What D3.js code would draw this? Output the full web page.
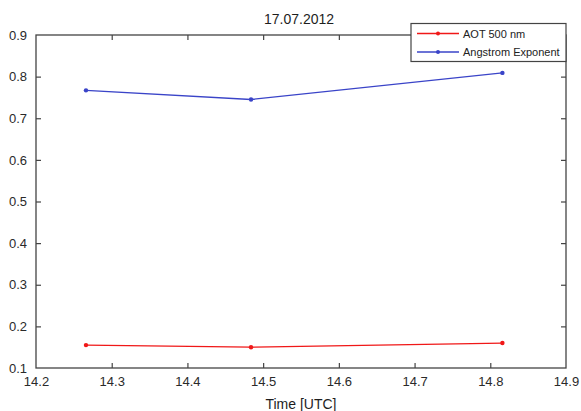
<!DOCTYPE html>
<html>
<head>
<meta charset="utf-8">
<script src="https://cdn.jsdelivr.net/npm/d3@7"></script>
<style>
  html, body { margin: 0; padding: 0; background: #fff; }
  svg { display: block; font-family: "Liberation Sans", Arial, sans-serif; }
</style>
</head>
<body>
<svg id="chart" width="581" height="411"></svg>
<script>
// Measurement times (hours UTC)
const times = [14.266, 14.484, 14.816];
// Aerosol optical thickness at 500 nm
const aot500 = [0.155, 0.150, 0.160];
// Angstrom exponent
const angstrom = [0.767, 0.745, 0.809];
const xTicks = [14.2, 14.3, 14.4, 14.5, 14.6, 14.7, 14.8, 14.9];
const yTicks = [0.1, 0.2, 0.3, 0.4, 0.5, 0.6, 0.7, 0.8, 0.9];
const seriesNames = ["AOT 500 nm", "Angstrom Exponent"];
const seriesColors = ["#f01818", "#3a44c8"];

const svg = d3.select("#chart");
const m = { left: 36, top: 35, right: 566, bottom: 368 };

const x = d3.scaleLinear().domain([14.2, 14.9]).range([m.left, m.right]);
const y = d3.scaleLinear().domain([0.1, 0.9]).range([m.bottom, m.top]);

const axisColor = "#444";
const tickLen = 5;

// Plot frame
svg.append("rect")
  .attr("x", m.left).attr("y", m.top)
  .attr("width", m.right - m.left).attr("height", m.bottom - m.top)
  .attr("fill", "#fff").attr("stroke", axisColor).attr("stroke-width", 1.3);

// Inward ticks on all four sides
function styleAxis(g) {
  g.select(".domain").remove();
  g.selectAll(".tick line").attr("stroke", axisColor).attr("stroke-width", 1.2);
  g.selectAll(".tick text").attr("fill", "#2a2a2a").attr("font-size", 13);
}
const fmt = d3.format(".1f");
svg.append("g").attr("transform", `translate(0,${m.bottom})`)
  .call(d3.axisBottom(x).tickValues(xTicks).tickFormat(fmt).tickSizeInner(-tickLen).tickSizeOuter(0).tickPadding(9))
  .call(styleAxis);
svg.append("g").attr("transform", `translate(0,${m.top})`)
  .call(d3.axisTop(x).tickValues(xTicks).tickFormat("").tickSizeInner(-tickLen).tickSizeOuter(0))
  .call(styleAxis);
svg.append("g").attr("transform", `translate(${m.left},0)`)
  .call(d3.axisLeft(y).tickValues(yTicks).tickFormat(fmt).tickSizeInner(-tickLen).tickSizeOuter(0).tickPadding(9))
  .call(styleAxis);
svg.append("g").attr("transform", `translate(${m.right},0)`)
  .call(d3.axisRight(y).tickValues(yTicks).tickFormat("").tickSizeInner(-tickLen).tickSizeOuter(0))
  .call(styleAxis);

// Hide the tick marks sitting on the frame corners
svg.selectAll(".tick").filter(d => d === 14.2 || d === 14.9 || d === 0.1 || d === 0.9)
  .select("line").attr("stroke-opacity", 0);

// Series lines and markers
const series = [aot500, angstrom];
const line = d3.line().x(d => x(d[0])).y(d => y(d[1]));
series.forEach((vals, i) => {
  const pts = times.map((t, j) => [t, vals[j]]);
  svg.append("path").datum(pts)
    .attr("d", line).attr("fill", "none")
    .attr("stroke", seriesColors[i]).attr("stroke-width", 1.3);
  svg.append("g").selectAll("circle").data(pts).join("circle")
    .attr("cx", d => x(d[0])).attr("cy", d => y(d[1])).attr("r", 2.2)
    .attr("fill", seriesColors[i]);
});

// Title and axis label
svg.append("text").attr("x", 299).attr("y", 23.5)
  .attr("text-anchor", "middle").attr("font-size", 14).attr("fill", "#1e1e1e")
  .text("17.07.2012");
svg.append("text").attr("x", 301).attr("y", 409)
  .attr("text-anchor", "middle").attr("font-size", 14).attr("fill", "#1e1e1e")
  .text("Time [UTC]");

// Legend
const lg = svg.append("g");
lg.append("rect").attr("x", 411).attr("y", 23.5).attr("width", 155).attr("height", 38)
  .attr("fill", "#fff").attr("stroke", axisColor).attr("stroke-width", 1.2);
seriesNames.forEach((name, i) => {
  const ly = 33.5 + i * 18.5;
  lg.append("line").attr("x1", 417).attr("x2", 459).attr("y1", ly).attr("y2", ly)
    .attr("stroke", seriesColors[i]).attr("stroke-width", 1.3);
  lg.append("circle").attr("cx", 438).attr("cy", ly).attr("r", 2).attr("fill", seriesColors[i]);
  lg.append("text").attr("x", 463).attr("y", ly + 4).attr("font-size", 11)
    .attr("fill", "#222").text(name);
});
</script>
</body>
</html>
